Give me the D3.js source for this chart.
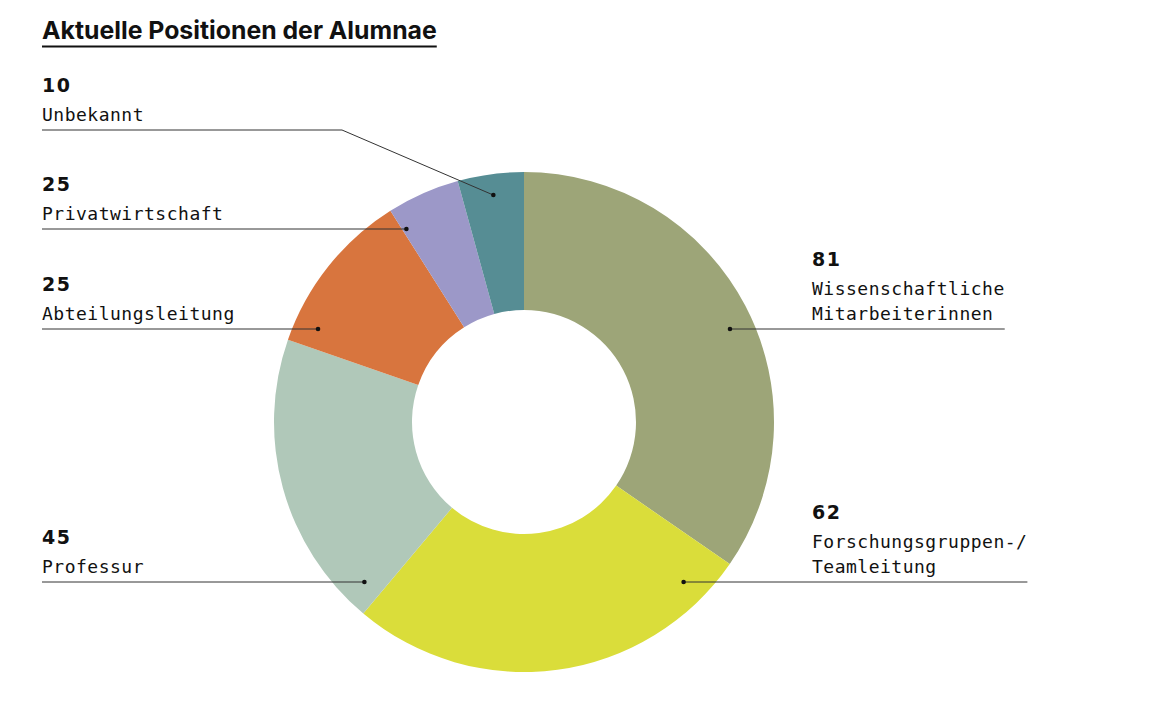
<!DOCTYPE html>
<html>
<head>
<meta charset="utf-8">
<script src="https://cdn.jsdelivr.net/npm/d3@7/dist/d3.min.js"></script>
<style>
  html, body { margin: 0; padding: 0; background: #fff; }
  svg { display: block; }
</style>
</head>
<body>
<svg id="chart" width="1173" height="702"></svg>
<script>
// ---- data ----
const title = "Aktuelle Positionen der Alumnae";
const categories = ["Wissenschaftliche Mitarbeiterinnen", "Forschungsgruppen-/ Teamleitung", "Professur", "Abteilungsleitung", "Privatwirtschaft", "Unbekannt"];
const labelLines = [["Wissenschaftliche", "Mitarbeiterinnen"], ["Forschungsgruppen-/", "Teamleitung"], ["Professur"], ["Abteilungsleitung"], ["Privatwirtschaft"], ["Unbekannt"]];
const sliceValues = [81, 62, 45, 25, 11, 10];      // slice sizes as drawn in the picture
const shownValues = ["81", "62", "45", "25", "25", "10"]; // numbers printed in the labels
const colors = ["#9da578", "#dadd3a", "#b0c8b9", "#d8753e", "#9c98c8", "#568d94"];

// ---- layout ----
const W = 1173, H = 702;
const cx = 524, cy = 422, rOuter = 250, rInner = 112;
const dotR = 226;
const leftX = 42, rightX = 812;
const labelSide = ["right", "right", "left", "left", "left", "left"];
const labelLineY = [329, 582, 582, 329, 229, 130];
const elbowX = [null, null, null, null, null, 342];

const svg = d3.select("#chart");
const monoFont = "'DejaVu Sans Mono', 'Liberation Mono', monospace";

// title
const t = svg.append("text")
  .attr("x", leftX).attr("y", 39)
  .attr("font-family", "Inter, 'DejaVu Sans', sans-serif")
  .attr("font-weight", 700)
  .attr("font-size", 22)
  .attr("fill", "#111")
  .text(title);
let tw = t.node().getComputedTextLength();
t.attr("font-size", 22 * 395 / tw);
tw = t.node().getComputedTextLength();
svg.append("line")
  .attr("x1", leftX).attr("x2", leftX + tw)
  .attr("y1", 46.5).attr("y2", 46.5)
  .attr("stroke", "#111").attr("stroke-width", 2);

// donut
const pie = d3.pie().sort(null).value(d => d);
const arcs = pie(sliceValues);
const arc = d3.arc().innerRadius(rInner).outerRadius(rOuter);
const g = svg.append("g").attr("transform", `translate(${cx},${cy})`);
g.selectAll("path").data(arcs).join("path")
  .attr("d", arc)
  .attr("fill", (d, i) => colors[i]);

// labels
const dotArc = d3.arc().innerRadius(229).outerRadius(229);
const lg = svg.append("g");
arcs.forEach((a, i) => {
  const side = labelSide[i];
  const ly = labelLineY[i];
  let dx, dy;
  if (elbowX[i] !== null) {
    const c = dotArc.centroid(a);
    dx = cx + c[0]; dy = cy + c[1];
  } else {
    const off = Math.sqrt(dotR * dotR - (ly - cy) * (ly - cy));
    dx = side === "right" ? cx + off : cx - off;
    dy = ly;
  }
  const tx = side === "right" ? rightX : leftX;
  const lines = labelLines[i];
  const lastBase = ly - 9.5;
  let maxW = 0;
  lines.forEach((s, k) => {
    const te = lg.append("text")
      .attr("x", tx)
      .attr("y", lastBase - (lines.length - 1 - k) * 25)
      .attr("font-family", monoFont)
      .attr("font-size", 18)
      .attr("letter-spacing", 0.5)
      .attr("fill", "#111")
      .text(s);
    maxW = Math.max(maxW, te.node().getComputedTextLength());
  });
  lg.append("text")
    .attr("x", tx)
    .attr("y", lastBase - (lines.length - 1) * 25 - 29)
    .attr("font-family", "'DejaVu Sans', sans-serif")
    .attr("font-weight", 700)
    .attr("font-size", 19)
    .attr("letter-spacing", 1.5)
    .attr("fill", "#111")
    .text(shownValues[i]);

  let pts;
  if (side === "right") {
    pts = [[dx, dy], [tx + maxW, ly]];
  } else if (elbowX[i] !== null) {
    pts = [[leftX, ly], [elbowX[i], ly], [dx, dy]];
  } else {
    pts = [[leftX, ly], [dx, dy]];
  }
  lg.append("path")
    .attr("d", d3.line()(pts))
    .attr("fill", "none")
    .attr("stroke", "#333")
    .attr("stroke-width", 1);
  lg.append("circle")
    .attr("cx", dx).attr("cy", dy).attr("r", 2.3)
    .attr("fill", "#111");
});
</script>
</body>
</html>
